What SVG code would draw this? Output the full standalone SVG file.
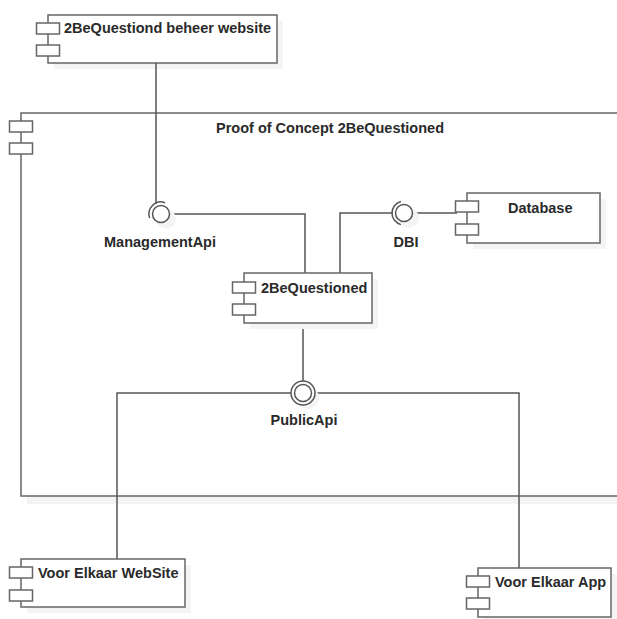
<svg xmlns="http://www.w3.org/2000/svg" width="617" height="619" viewBox="0 0 617 619">
<style>
.box{fill:#fff;stroke:#666;stroke-width:1.5}
.ico{fill:#fff;stroke:#666;stroke-width:1.5}
.sh{fill:#f4f4f4}
.ln{fill:none;stroke:#555;stroke-width:1.5}
.ball{fill:#fff;stroke:#555;stroke-width:1.5}
.sock{fill:none;stroke:#555;stroke-width:1.5}
.t{font-family:"Liberation Sans",Arial,sans-serif;font-weight:bold;font-size:14.5px;fill:#2a2a2a}
.c{text-anchor:middle}
</style>
<rect width="617" height="619" fill="#fff"/>
<g id="container">
  <rect class="sh" x="27" y="119" width="600" height="385"/>
  <rect class="box" x="21" y="113" width="610" height="383"/>
  <rect class="ico" x="9.5" y="121" width="23" height="11"/>
  <rect class="ico" x="9.5" y="143" width="23" height="11"/>
  <text class="t" x="216" y="133">Proof of Concept 2BeQuestioned</text>
</g>
<g id="beheer">
  <rect class="sh" x="54" y="21" width="229" height="48"/>
  <rect class="box" x="48" y="15" width="229" height="48"/>
  <rect class="ico" x="36.5" y="23" width="23" height="11"/>
  <rect class="ico" x="36.5" y="45" width="23" height="11"/>
  <text class="t" x="64" y="33">2BeQuestiond beheer website</text>
</g>
<g id="connectors">
  <path class="ln" d="M156 63 V204"/>
  <path class="ln" d="M170 214 H305 V273"/>
  <path class="ln" d="M340 273 V213 H393"/>
  <path class="ln" d="M413 213 H457"/>
  <path class="ln" d="M303 323 V381"/>
  <path class="ln" d="M291 393 H117 V559"/>
  <path class="ln" d="M315 393 H519 V568"/>
</g>
<g id="ManagementApi">
  <circle class="sh" cx="166" cy="219" r="10"/>
  <circle class="ball" cx="161" cy="214" r="8.5"/>
  <path class="sock" d="M149.7 218.1 A12 12 0 0 1 165.1 202.7"/>
  <text class="t c" x="160" y="247">ManagementApi</text>
</g>
<g id="DBI">
  <circle class="sh" cx="409" cy="218" r="10"/>
  <circle class="ball" cx="404" cy="213" r="8.5"/>
  <path class="sock" d="M400.9 224.6 A12 12 0 0 1 400.9 201.4"/>
  <text class="t c" x="406" y="247">DBI</text>
</g>
<g id="PublicApi">
  <circle class="sh" cx="308" cy="398" r="11"/>
  <circle class="ball" cx="303" cy="393" r="12"/>
  <circle class="ball" cx="303" cy="393" r="8.5"/>
  <text class="t c" x="304" y="425">PublicApi</text>
</g>
<g id="Database">
  <rect class="sh" x="473" y="199" width="133" height="50"/>
  <rect class="box" x="467" y="193" width="133" height="50"/>
  <rect class="ico" x="455.5" y="201" width="23" height="11"/>
  <rect class="ico" x="455.5" y="224" width="23" height="11"/>
  <text class="t" x="508" y="213">Database</text>
</g>
<g id="TwoBeQuestioned">
  <rect class="sh" x="250" y="279" width="128" height="50"/>
  <rect class="box" x="244" y="273" width="128" height="50"/>
  <rect class="ico" x="232.5" y="282" width="23" height="11"/>
  <rect class="ico" x="232.5" y="304" width="23" height="11"/>
  <text class="t" x="261" y="293">2BeQuestioned</text>
</g>
<g id="WebSite">
  <rect class="sh" x="27" y="565" width="164" height="48"/>
  <rect class="box" x="21" y="559" width="164" height="48"/>
  <rect class="ico" x="9.5" y="567" width="23" height="11"/>
  <rect class="ico" x="9.5" y="590" width="23" height="11"/>
  <text class="t" x="38" y="578">Voor Elkaar WebSite</text>
</g>
<g id="App">
  <rect class="sh" x="484" y="574" width="133" height="50"/>
  <rect class="box" x="478" y="568" width="133" height="49"/>
  <rect class="ico" x="466.5" y="576" width="23" height="11"/>
  <rect class="ico" x="466.5" y="598" width="23" height="11"/>
  <text class="t" x="495" y="587">Voor Elkaar App</text>
</g>
</svg>
